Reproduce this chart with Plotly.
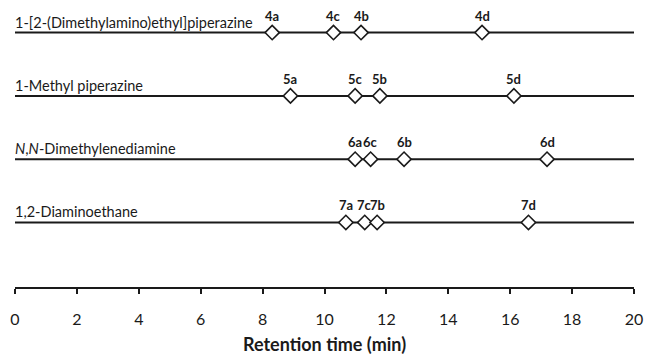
import plotly.graph_objects as go

compounds = [
    "1-[2-(Dimethylamino)ethyl]piperazine",
    "1-Methyl piperazine",
    "<i>N</i>,<i>N</i>-Dimethylenediamine",
    "1,2-Diaminoethane",
]
row_pos = [4, 3, 2, 1]

labels_4 = ["4a", "4c", "4b", "4d"]
times_4 = [8.31, 10.29, 11.18, 15.09]
labels_5 = ["5a", "5c", "5b", "5d"]
times_5 = [8.90, 10.99, 11.79, 16.12]
labels_6 = ["6a", "6c", "6b", "6d"]
times_6 = [10.99, 11.49, 12.57, 17.19]
labels_7 = ["7a", "7c", "7b", "7d"]
times_7 = [10.69, 11.30, 11.70, 16.59]

x_range = [0, 20]
x_ticks = [0, 2, 4, 6, 8, 10, 12, 14, 16, 18, 20]

series = [(labels_4, times_4), (labels_5, times_5), (labels_6, times_6), (labels_7, times_7)]

fig = go.Figure()
FONT = "Lato, Carlito, Calibri, sans-serif"
INK = "#1a1a1a"

for name, y in zip(compounds, row_pos):
    fig.add_trace(go.Scatter(
        x=x_range, y=[y, y], mode="lines",
        line=dict(color=INK, width=2), showlegend=False, hoverinfo="skip",
    ))
    fig.add_annotation(
        x=x_range[0], y=y, text=name, showarrow=False,
        xanchor="left", yanchor="bottom", yshift=0, xshift=-2,
        font=dict(family=FONT, size=14.5, color=INK),
    )

for (labs, times), y in zip(series, row_pos):
    fig.add_trace(go.Scatter(
        x=times, y=[y] * len(times), mode="markers",
        marker=dict(symbol="diamond", size=11, color="white",
                    line=dict(color=INK, width=1.6)),
        showlegend=False, cliponaxis=False,
    ))
    for l, t in zip(labs, times):
        fig.add_annotation(
            x=t, y=y, text=f"<b>{l}</b>", showarrow=False,
            xanchor="center", yanchor="bottom", yshift=7,
            font=dict(family=FONT, size=13, color=INK),
        )

fig.update_layout(
    width=653, height=362,
    margin=dict(l=13, r=12, t=10, b=66),
    plot_bgcolor="white", paper_bgcolor="white",
    font=dict(family=FONT, color=INK),
    xaxis=dict(
        range=x_range, tickvals=x_ticks, showgrid=False, zeroline=False,
        showline=True, linecolor=INK, linewidth=2,
        ticks="outside", ticklen=5, tickwidth=2, tickcolor=INK,
        ticklabelstandoff=12,
        tickfont=dict(family=FONT, size=16, color=INK),
        title=dict(text="<b>Retention time (min)</b>", font=dict(family=FONT, size=18, color=INK), standoff=11),
    ),
    yaxis=dict(range=[-0.02, 4.357], visible=False, showgrid=False, zeroline=False),
)

fig.write_html(
    "out.html",
    config={"displayModeBar": False},
    post_script="document.body.style.margin='0px';document.body.style.overflow='hidden';",
)
